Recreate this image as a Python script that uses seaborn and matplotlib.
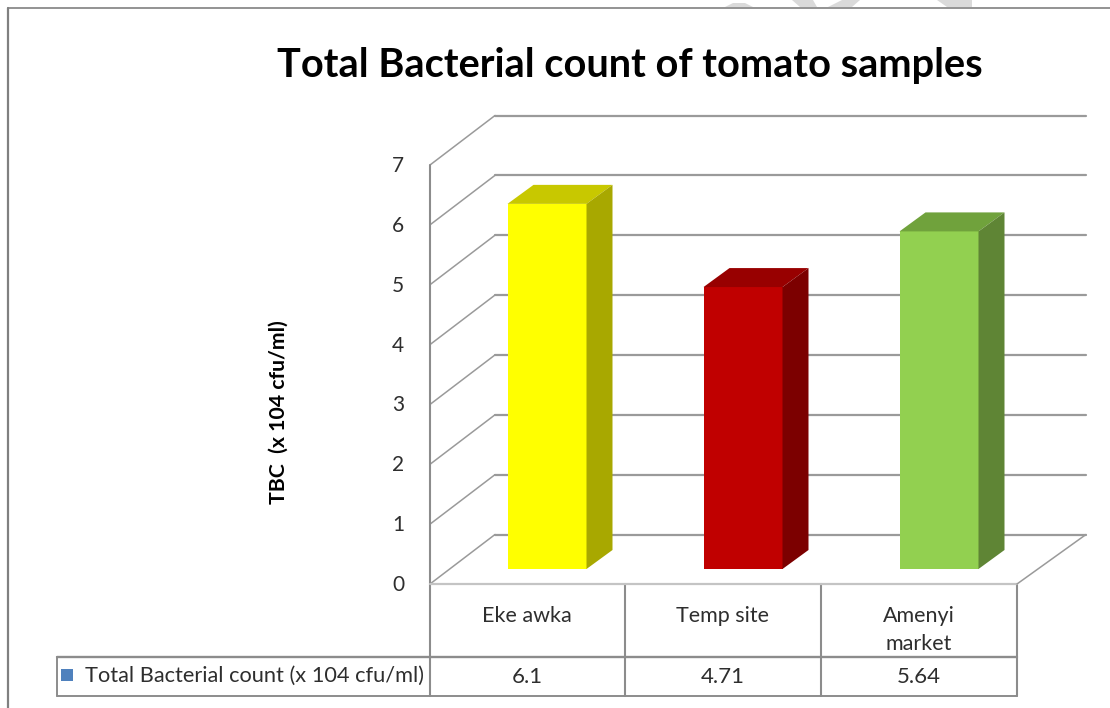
import matplotlib
matplotlib.use("Agg")
import matplotlib.pyplot as plt
from matplotlib.patches import Polygon, Rectangle
import pandas as pd
import seaborn as sns

sites = ["Eke awka", "Temp site", "Amenyi market"]
site_labels = ["Eke awka", "Temp site", "Amenyi\nmarket"]
counts = [6.1, 4.71, 5.64]
count_labels = ["6.1", "4.71", "5.64"]
y_ticks = [0, 1, 2, 3, 4, 5, 6, 7]
front_colors = ["#FFFF00", "#C00000", "#92D050"]
top_colors = ["#C8C800", "#980000", "#70A23C"]
side_colors = ["#A8A800", "#7C0000", "#5F8535"]

W, H = 1110, 708
sns.set_theme(style="white")
plt.rcParams["font.family"] = ["Lato", "DejaVu Sans"]
fig = plt.figure(figsize=(W / 100, H / 100), dpi=100, facecolor="white")


def px_axes(left, top, right, bottom):
    a = fig.add_axes([left / W, 1 - bottom / H, (right - left) / W, (bottom - top) / H])
    a.patch.set_alpha(0)
    a.set_axis_off()
    return a


GRID = "#9A9A9A"
TEXT = "#2E2E2E"

# frame, watermark remnants and data-table rules in figure pixels
chrome = px_axes(0, 0, W, H)
chrome.set_xlim(0, W)
chrome.set_ylim(H, 0)
for pts in ([(725, 7), (753, 7), (745, 3), (733, 3)],
            [(800, 7), (817, 7), (813, 0), (792, 0)],
            [(828, 7), (852, 7), (860, 0), (842, 0)],
            [(947, 7), (972, 7), (972, 0), (937, 0)]):
    chrome.add_patch(Polygon(pts, closed=True, fc="#DADADA", ec="none"))
chrome.plot([8, 8], [8, H], color="#808080", lw=1.6)
chrome.plot([8, W], [7.5, 7.5], color="#808080", lw=1.2)
for x in (430, 625, 821, 1017):
    chrome.plot([x, x], [584, 696], color="#8C8C8C", lw=1.5)
chrome.plot([57, 1017], [657, 657], color="#8C8C8C", lw=1.7)
chrome.plot([57, 1017], [696, 696], color="#8C8C8C", lw=1.4)
chrome.plot([57, 57], [657, 696], color="#8C8C8C", lw=1.4)
chrome.add_patch(Rectangle((61, 669), 12, 12, fc="#4F81BD", ec="none"))
chrome.text(85, 676, "Total Bacterial count (x 104 cfu/ml)", fontsize=15.65,
            color=TEXT, va="center", ha="left")
for cx, lab, val in zip((527.5, 723, 919), site_labels, count_labels):
    chrome.text(cx, 677, val, fontsize=16, color=TEXT, ha="center", va="center")
    if "\n" in lab:
        chrome.text(cx, 630.5, lab, fontsize=15.5, color=TEXT, ha="center",
                    va="center", linespacing=1.5)
    else:
        chrome.text(cx - 1, 616, lab, fontsize=15.5,
                    color=TEXT, ha="center", va="center")
chrome.text(630, 65, "Total Bacterial count of tomato samples", fontsize=28.6,
            fontweight="bold", color="black", ha="center", va="center")
chrome.text(279, 412, "TBC  (x 104 cfu/ml)", fontsize=15.3, fontweight="bold",
            color="black", rotation=90, ha="center", va="center")

# front plane of the value axis; back wall is offset by the chart depth
ax = px_axes(430, 165, 1017, 584)
ax.set_xlim(-0.5, 2.5)
ax.set_ylim(0, 7)
wall_dx = 65 / 195.7
wall_dy = 49.5 / 59.86
wall_right = 2.5 + 69 / 195.7
for v in y_ticks:
    ax.plot([-0.5, -0.5 + wall_dx], [v, v + wall_dy], color=GRID, lw=1.1,
            clip_on=False, zorder=1)
    ax.plot([-0.5 + wall_dx, wall_right], [v + wall_dy, v + wall_dy], color=GRID,
            lw=1.6, clip_on=False, zorder=1)
    ax.text(-0.5, v, str(v), transform=ax.transData + matplotlib.transforms.Affine2D().translate(-26, -1),
            ha="right", va="center", fontsize=15, color=TEXT)
ax.plot([-0.5, -0.5], [0, 7], color="#8C8C8C", lw=1.5, clip_on=False, zorder=2)
ax.plot([-0.5, 2.5], [0, 0], color="#C4C4C4", lw=1.6, clip_on=False, zorder=2)
ax.plot([2.5, wall_right], [0, wall_dy], color=GRID, lw=1.1, clip_on=False, zorder=2)

# bars stand part-way into the depth of the floor
bar_ax = px_axes(449, 150, 1037, 569)
df = pd.DataFrame({"site": sites, "count": counts})
sns.barplot(data=df, x="site", y="count", hue="site", hue_order=sites,
            palette=front_colors, width=79 / 196, saturation=1, legend=False,
            ax=bar_ax, zorder=4)
bar_ax.set_xlim(-0.5, 2.5)
bar_ax.set_ylim(0, 7)
bar_ax.set_axis_off()
bar_dx = 26 / 196
bar_dy = 19 / 59.86
for bar, tc, sc in zip(bar_ax.patches, top_colors, side_colors):
    x0, x1 = bar.get_x(), bar.get_x() + bar.get_width()
    h = bar.get_height()
    bar.set_edgecolor("none")
    bar_ax.add_patch(Polygon([(x0, h), (x1, h), (x1 + bar_dx, h + bar_dy), (x0 + bar_dx, h + bar_dy)],
                             closed=True, fc=tc, ec="none", clip_on=False, zorder=4))
    bar_ax.add_patch(Polygon([(x1, 0), (x1 + bar_dx, bar_dy), (x1 + bar_dx, h + bar_dy), (x1, h)],
                             closed=True, fc=sc, ec="none", clip_on=False, zorder=4))

fig.savefig("out.png", dpi=100)
